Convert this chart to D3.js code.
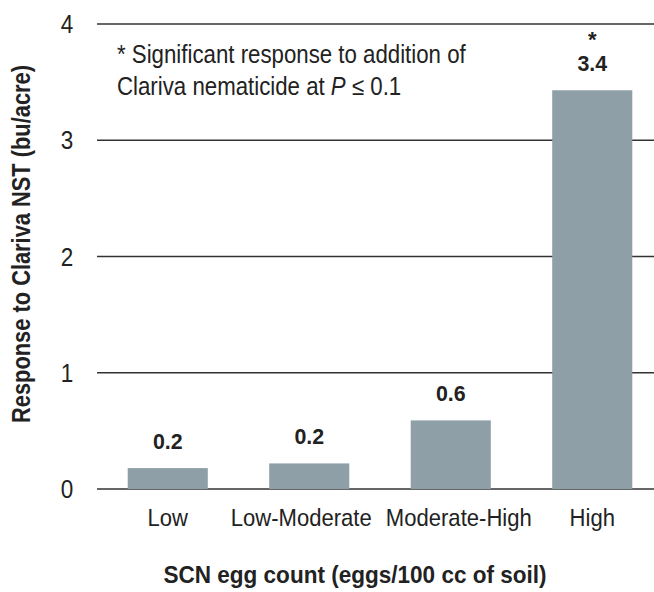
<!DOCTYPE html>
<html>
<head>
<meta charset="utf-8">
<script src="https://cdn.jsdelivr.net/npm/d3@7"></script>
<style>
  body { margin: 0; background: #fff; }
  svg { display: block; }
  text { font-family: "Liberation Sans", Arial, sans-serif; fill: #222; }
</style>
</head>
<body>
<svg width="654" height="592"></svg>
<script>
const categories = ["Low", "Low-Moderate", "Moderate-High", "High"];
const responses = [0.18, 0.22, 0.59, 3.43];
const valueLabels = ["0.2", "0.2", "0.6", "3.4"];
const significant = [false, false, false, true];
const yTicks = [0, 1, 2, 3, 4];

const svg = d3.select("svg");
const plotLeft = 97, plotRight = 663, plotTop = 24, plotBottom = 489;
const narrow = 0.9; // 원본 글꼴이 좁은 글꼴이라 가로로 압축

const x = d3.scaleBand()
  .domain(categories)
  .range([plotLeft, plotRight])
  .paddingInner(0.434)
  .paddingOuter(0.217);

const y = d3.scaleLinear().domain([0, 4]).range([plotBottom, plotTop]);

// 가로 눈금선
svg.append("g")
  .selectAll("line")
  .data(yTicks)
  .enter()
  .append("line")
  .attr("x1", plotLeft)
  .attr("x2", 654)
  .attr("y1", (d) => y(d))
  .attr("y2", (d) => y(d))
  .attr("stroke", "#333")
  .attr("stroke-width", 1.5);

svg.append("g")
  .selectAll("text")
  .data(yTicks)
  .enter()
  .append("text")
  .text((d) => d)
  .attr("transform", (d) => `translate(67, ${y(d) + 9}) scale(${narrow}, 1)`)
  .attr("text-anchor", "middle")
  .style("font-size", "25px");

// 막대
svg.append("g")
  .selectAll("rect")
  .data(responses)
  .enter()
  .append("rect")
  .attr("x", (d, i) => x(categories[i]))
  .attr("y", (d) => y(d))
  .attr("width", x.bandwidth())
  .attr("height", (d) => y(0) - y(d))
  .attr("fill", "#8e9fa8");

svg.append("g")
  .selectAll("text")
  .data(responses)
  .enter()
  .append("text")
  .text((d, i) => valueLabels[i])
  .attr("transform", (d, i) =>
    `translate(${x(categories[i]) + x.bandwidth() / 2}, ${y(d) - 19}) scale(0.93, 1)`)
  .attr("text-anchor", "middle")
  .style("font-size", "23px")
  .style("font-weight", "bold");

svg.append("g")
  .selectAll("text")
  .data(responses.filter((d, i) => significant[i]))
  .enter()
  .append("text")
  .text("*")
  .attr("x", (d) => x(categories[responses.indexOf(d)]) + x.bandwidth() / 2)
  .attr("y", (d) => y(d) - 43)
  .attr("text-anchor", "middle")
  .style("font-size", "22px")
  .style("font-weight", "bold");

// 범주 라벨 (겹치면 양옆으로 밀어냄)
const catLabels = svg.append("g")
  .selectAll("text")
  .data(categories)
  .enter()
  .append("text")
  .text((d) => d)
  .attr("text-anchor", "middle")
  .style("font-size", "24px");

const labelScale = 0.92;
const centers = categories.map((d) => x(d) + x.bandwidth() / 2);
const widths = catLabels.nodes().map((n) => n.getComputedTextLength() * labelScale);
const minGap = 14;
for (let i = 0; i < categories.length - 1; i++) {
  const gap = (centers[i + 1] - widths[i + 1] / 2) - (centers[i] + widths[i] / 2);
  if (gap < minGap) {
    const push = (minGap - gap) / 2;
    centers[i] -= push;
    centers[i + 1] += push;
  }
}
catLabels.attr("transform", (d, i) => `translate(${centers[i]}, 526) scale(${labelScale}, 1)`);

// 주석
const note = svg.append("text")
  .attr("transform", `translate(117, 63) scale(0.89, 1)`)
  .style("font-size", "25px");
note.append("tspan").text("* Significant response to addition of");
const note2 = svg.append("text")
  .attr("transform", `translate(117, 95) scale(0.89, 1)`)
  .style("font-size", "25px");
note2.append("tspan").text("Clariva nematicide at ");
note2.append("tspan").text("P").style("font-style", "italic");
note2.append("tspan").text(" \u2264 0.1");

// 축 제목
svg.append("text")
  .text("Response to Clariva NST (bu/acre)")
  .attr("transform", "translate(30, 244) rotate(-90) scale(0.84, 1)")
  .attr("text-anchor", "middle")
  .style("font-size", "26px")
  .style("font-weight", "bold");

svg.append("text")
  .text("SCN egg count (eggs/100 cc of soil)")
  .attr("transform", "translate(355, 583) scale(0.98, 1)")
  .attr("text-anchor", "middle")
  .style("font-size", "23px")
  .style("font-weight", "bold");
</script>
</body>
</html>
